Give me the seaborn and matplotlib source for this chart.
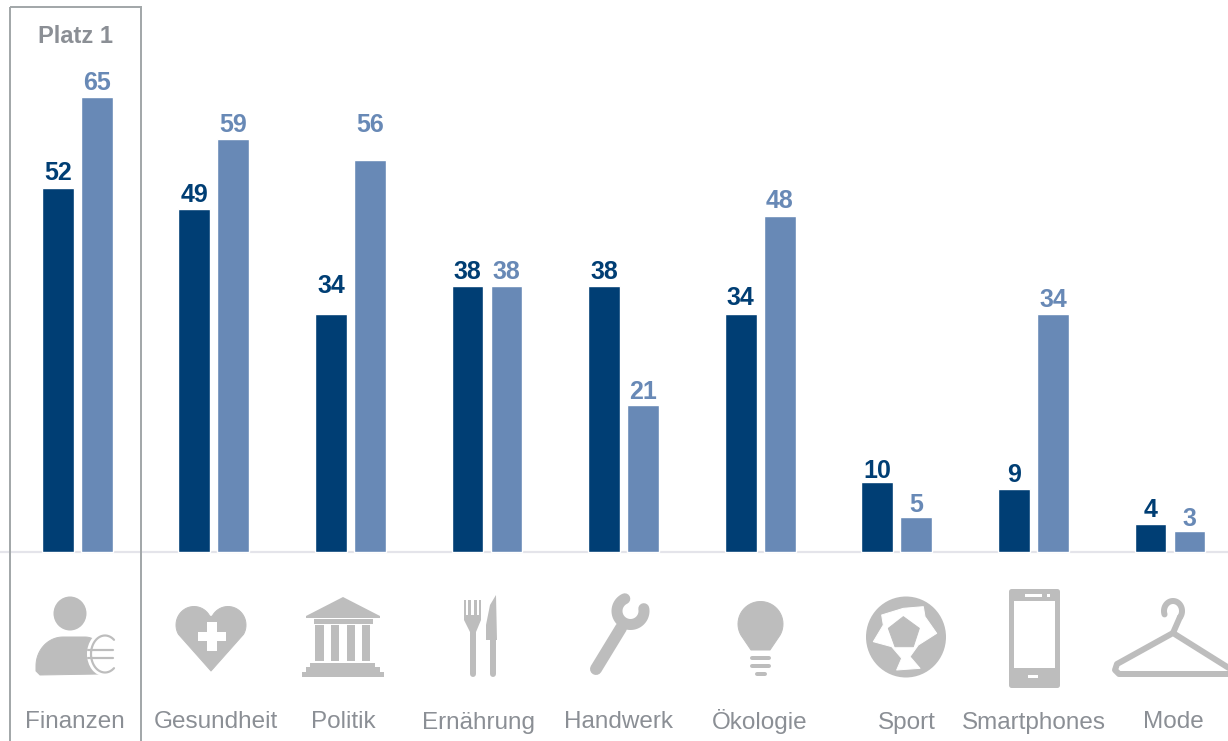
import numpy as np
import pandas as pd
import matplotlib
matplotlib.use("Agg")
import matplotlib.pyplot as plt
from matplotlib.patches import Ellipse, Polygon, Rectangle
import seaborn as sns

categories = ["Finanzen", "Gesundheit", "Politik", "Ernährung", "Handwerk",
              "Ökologie", "Sport", "Smartphones", "Mode"]
series_a = [52, 49, 34, 38, 38, 34, 10, 9, 4]
series_b = [65, 59, 56, 38, 21, 48, 5, 34, 3]
highlight_label = "Platz 1"

DARK, LIGHT, ICON, BOX, BASE, GREY = "#003e74", "#6889b6", "#bdbdbd", "#a3a8aa", "#e4e4ea", "#8b8f95"
W, H, DPI = 1228, 741, 100
FONT = "Liberation Sans"

sns.set_theme(style="white")
plt.rcParams["font.family"] = [FONT, "DejaVu Sans"]

df = pd.DataFrame({
    "Thema": categories * 2,
    "Wert": series_a + series_b,
    "Reihe": ["A"] * len(categories) + ["B"] * len(categories),
})

fig = plt.figure(figsize=(W / DPI, H / DPI), dpi=DPI, facecolor="white")
ax = fig.add_axes([0, 0, 1, 1])
sns.barplot(data=df, x="Thema", y="Wert", hue="Reihe", order=categories,
            hue_order=["A", "B"], palette={"A": DARK, "B": LIGHT}, saturation=1,
            width=0.571, gap=0.18, legend=False, ax=ax)

# layout: pixel scale of the original
unit_x, x0, unit_y, y0 = 136.6, 77.2, 7.0, 551.6
ax.set_xlim(-x0 / unit_x, (W - x0) / unit_x)
ax.set_ylim(-(H - y0) / unit_y, y0 / unit_y)
ax.axis("off")
ax.axhline(0, color=BASE, lw=1.6, zorder=0)

# distance from the top of a bar to the centre of its label, in px
lift_a = [15, 14, 28, 14, 14, 16, 11, 14, 14]
lift_b = [14, 14, 35, 14, 13, 15, 12, 14, 12]
offset = 19.5 / unit_x
for i, (a, b) in enumerate(zip(series_a, series_b)):
    ax.annotate(str(a), (i - offset, a), xytext=(0, lift_a[i] * 72 / DPI),
                textcoords="offset points", ha="center", va="center",
                color=DARK, fontsize=18, fontweight="bold", family=FONT)
    ax.annotate(str(b), (i + offset, b), xytext=(0, lift_b[i] * 72 / DPI),
                textcoords="offset points", ha="center", va="center",
                color=LIGHT, fontsize=18, fontweight="bold", family=FONT)

# overlay in pixel space for the frame, icons and category captions
ov = fig.add_axes([0, 0, 1, 1], facecolor="none")
ov.set_xlim(0, W)
ov.set_ylim(H, 0)
ov.axis("off")

pt = 72 / DPI


def poly(points, color=ICON, lw=0, **kw):
    ov.add_patch(Polygon(points, closed=True, fc=color, ec=color, lw=lw * pt,
                         joinstyle="round", **kw))


def line(xs, ys, width, color=ICON):
    ov.plot(xs, ys, color=color, lw=width * pt, solid_capstyle="round",
            solid_joinstyle="round")


def arc(cx, cy, rx, ry, start, stop, width, color=ICON):
    t = np.radians(np.linspace(start, stop, 50))
    line(cx + rx * np.cos(t), cy + ry * np.sin(t), width, color)


def arc_pts(cx, cy, rx, ry, start, stop, n=30):
    t = np.radians(np.linspace(start, stop, n))
    return list(zip(cx + rx * np.cos(t), cy + ry * np.sin(t)))


ov.add_patch(Rectangle((10, 7), 131, 750, fc="none", ec=BOX, lw=2.0 * pt, clip_on=True))
ov.text(75, 36.5, highlight_label, ha="center", va="center", fontsize=17,
        fontweight="bold", color=GREY, family=FONT)

caption_x = [75, 216, 343, 479, 619, 760, 907, 1034, 1173]
for name, cx in zip(categories, caption_x):
    ov.text(cx, 728.5, name, ha="center", va="baseline", fontsize=17.5, color=GREY, family=FONT)

# person with euro
ov.add_patch(Ellipse((70, 613.5), 33, 34, fc=ICON, ec="none"))
poly(arc_pts(63, 666, 27, 29, 180, 270) + arc_pts(85, 660, 20, 23, 270, 360) +
     [(100, 674), (40, 675), (36, 671)], lw=1)
ov.add_patch(Ellipse((104, 654), 34, 44, fc="white", ec="none"))
arc(105, 654, 14, 18.5, 310, 50, 2.2)
line([88, 113], [650, 650], 2.2)
line([88, 113], [658, 658], 2.2)

# heart with cross
poly(arc_pts(194, 625, 18, 18.5, 150, 335) + [(211, 616)] +
     arc_pts(228, 625, 18, 18.5, 205, 390) + [(211, 671)], lw=1)
poly([(207, 622), (217, 622), (217, 632), (226, 632), (226, 641), (217, 641),
      (217, 651), (207, 651), (207, 641), (198, 641), (198, 632), (207, 632)], color="white")

# pillared building
poly([(343, 597), (380, 616), (380, 618), (306, 618), (306, 616)])
ov.add_patch(Rectangle((314, 619), 59, 4.5, fc=ICON, ec="none"))
for left, wid in zip((315, 331, 347, 362), (9, 8, 8, 8)):
    ov.add_patch(Rectangle((left, 625), wid, 36, fc=ICON, ec="none"))
for left, top, wid, hei in zip((310, 306, 302), (663, 667, 672), (65, 74, 82), (4, 5, 5)):
    ov.add_patch(Rectangle((left, top), wid, hei, fc=ICON, ec="none"))

# fork and knife
poly([(464, 600), (466, 600), (466, 615), (468, 615), (468, 600), (471, 600), (471, 615),
      (474, 615), (474, 600), (477, 600), (477, 615), (479, 615), (479, 600), (481, 600),
      (481, 620), (476, 632), (470, 632), (464, 620)])
line([473, 473], [630, 674], 6)
poly([(496, 595), (497, 640), (492, 640), (486, 640), (486, 625), (490, 605)])
line([493, 493], [640, 674], 6)

# wrench
line([596, 621], [669, 628], 12)
arc(630.5, 611, 13.5, 13.5, 245, -10, 11)

# light bulb
poly(arc_pts(760.5, 624, 22.5, 22.5, 150, 390, 40) + [(770, 650), (751, 650)], lw=1)
for y_, l_, r_ in ((658, 750, 771), (665.5, 750, 771), (673.5, 755, 767)):
    line([l_ + 2, r_ - 2], [y_, y_], 4)

# football
ov.add_patch(Ellipse((906, 637), 80, 81, fc=ICON, ec="none"))
ball = [(65, 75), (130, 55), (190, 50), (195, 80), (230, 130), (175, 165), (150, 200),
        (180, 235), (110, 240), (125, 205), (95, 170), (40, 155), (70, 105)]
poly([(860 + p / 3, 590 + q / 3) for p, q in ball], color="white", lw=1)
penta = [(130, 80), (178, 115), (160, 170), (105, 170), (85, 115)]
poly([(860 + p / 3, 590 + q / 3) for p, q in penta], lw=1)

# smartphone
ov.add_patch(Rectangle((1011, 591), 46, 94, fc=ICON, ec=ICON, lw=5 * pt, joinstyle="round"))
ov.add_patch(Rectangle((1014, 601), 41, 67, fc="white", ec="none"))
ov.add_patch(Rectangle((1025, 594), 17, 2.5, fc="white", ec="none"))
ov.add_patch(Rectangle((1047, 594), 2.5, 2.5, fc="white", ec="none"))
ov.add_patch(Rectangle((1028, 675), 10, 3, fc="white", ec="none"))

# hanger
line([1240, 1173, 1117, 1115, 1119, 1240], [675, 633, 664, 670, 674, 674], 6)
arc(1173, 611, 9, 10, 160, 400, 6)
line([1180, 1173], [617, 633], 6)

fig.savefig("out.png", dpi=DPI, facecolor="white")
